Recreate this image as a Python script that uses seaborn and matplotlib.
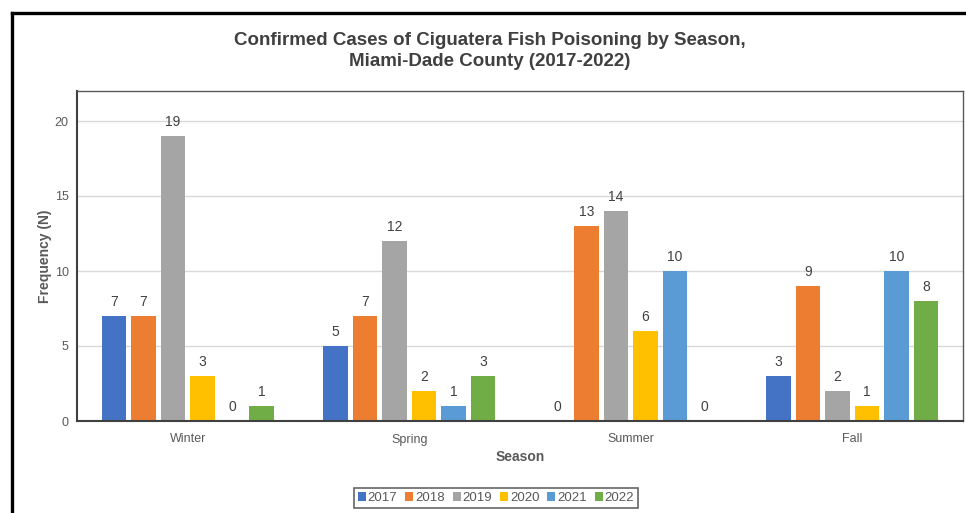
import matplotlib
matplotlib.use("Agg")
import matplotlib.pyplot as plt
from matplotlib import font_manager
from matplotlib.lines import Line2D
import pandas as pd
import seaborn as sns

seasons = ["Winter", "Spring", "Summer", "Fall"]
years = ["2017", "2018", "2019", "2020", "2021", "2022"]
cases_2017 = [7, 5, 0, 3]
cases_2018 = [7, 7, 13, 9]
cases_2019 = [19, 12, 14, 2]
cases_2020 = [3, 2, 6, 1]
cases_2021 = [0, 1, 10, 10]
cases_2022 = [1, 3, 0, 8]
year_colors = ["#4472C4", "#ED7D31", "#A5A5A5", "#FFC000", "#5B9BD5", "#70AD47"]

series = [cases_2017, cases_2018, cases_2019, cases_2020, cases_2021, cases_2022]
df = pd.DataFrame(
    [(s, y, v) for y, vals in zip(years, series) for s, v in zip(seasons, vals)],
    columns=["Season", "Year", "Cases"],
)

sns.set_theme(style="white")
names = {f.name for f in font_manager.fontManager.ttflist}
family = "Liberation Sans Narrow" if "Liberation Sans Narrow" in names else "Liberation Sans"
plt.rcParams["font.family"] = ["Liberation Sans", "DejaVu Sans"]

W, H = 966, 513
fig = plt.figure(figsize=(W / 100, H / 100), dpi=100)
ax = fig.add_axes([77 / W, 1 - 421 / H, (963 - 77) / W, (421 - 91) / H])

sns.barplot(
    data=df, x="Season", y="Cases", hue="Year", order=seasons, hue_order=years,
    palette=year_colors, width=0.8, gap=0.18, ax=ax, legend=True,
    saturation=1, linewidth=0,
)

ax.set_ylim(0, 22)
ax.set_xlim(-0.5, 3.5)
ax.set_yticks([0, 5, 10, 15, 20])
ax.yaxis.grid(True, color="#D9D9D9", linewidth=1)
ax.set_axisbelow(True)

for c in ax.containers:
    ax.bar_label(c, fmt="%g", padding=5, fontsize=10, color="#404040")

tick_color = "#595959"
ax.tick_params(axis="both", length=0, labelsize=9, colors=tick_color)
ax.tick_params(axis="y", pad=6)
ax.tick_params(axis="x", pad=9)

for side in ["left", "bottom"]:
    ax.spines[side].set_color("#404040")
    ax.spines[side].set_linewidth(1.5)
for side in ["top", "right"]:
    ax.spines[side].set_color("#595959")
    ax.spines[side].set_linewidth(1.0)

ax.set_xlabel("Season", fontsize=10, fontweight="bold", color="#595959", labelpad=3)
ax.set_ylabel("Frequency (N)", fontsize=10, fontweight="bold", color="#595959", labelpad=2)

fig.text(
    0.507, 1 - 51 / H,
    "Confirmed Cases of Ciguatera Fish Poisoning by Season,\nMiami-Dade County (2017-2022)",
    ha="center", va="center", fontsize=13.5, fontweight="bold", color="#404040",
    family=[family, "DejaVu Sans"], linespacing=1.25,
)

leg = ax.legend(
    loc="center", bbox_to_anchor=(496 / W, 1 - 498 / H), bbox_transform=fig.transFigure,
    ncol=6, frameon=True, fancybox=False, fontsize=9.5, handlelength=0.6, handleheight=0.6,
    handletextpad=0.15, columnspacing=0.6, borderpad=0.3, title=None,
)
leg.get_frame().set_edgecolor("#404040")
leg.get_frame().set_linewidth(1.2)
for t in leg.get_texts():
    t.set_color("#595959")

# outer border of the figure panel
fig.add_artist(Line2D([12 / W, 12 / W], [0, 1 - 13 / H], transform=fig.transFigure,
                      color="black", linewidth=2.4, solid_capstyle="projecting"))
fig.add_artist(Line2D([12 / W, 1], [1 - 13 / H, 1 - 13 / H], transform=fig.transFigure,
                      color="black", linewidth=2.4, solid_capstyle="projecting"))

fig.savefig("out.png", dpi=100, facecolor="white")
